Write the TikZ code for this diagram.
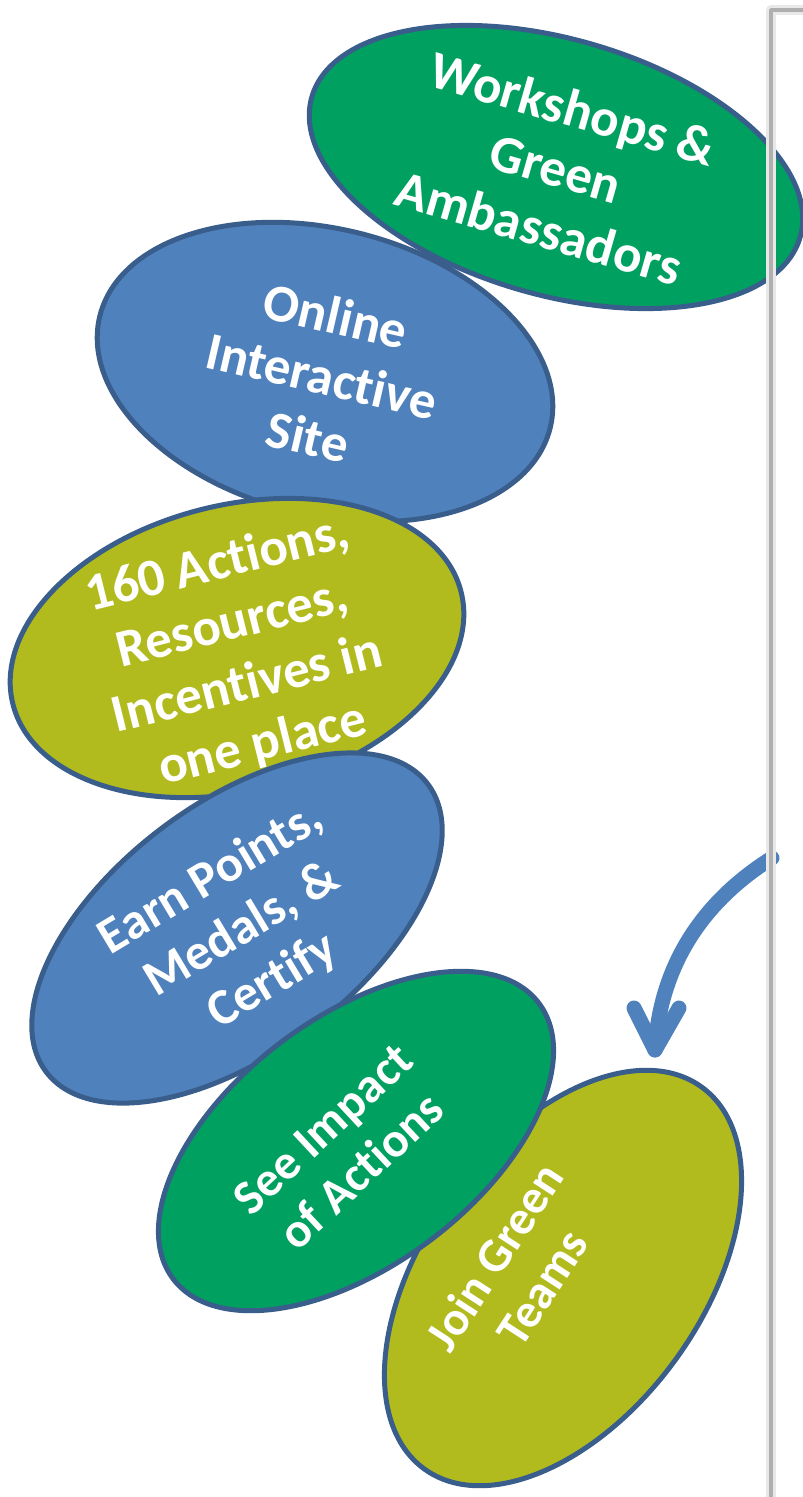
\documentclass[tikz,border=0pt]{standalone}
\usepackage{fontspec}
\setmainfont[Ligatures=NoCommon]{Carlito}
\usepackage{tikz}
\usetikzlibrary{arrows.meta,shapes.geometric}
\definecolor{bubblegreen}{RGB}{0,161,96}
\definecolor{bubbleblue}{RGB}{79,129,189}
\definecolor{bubbleolive}{RGB}{178,187,30}
\definecolor{rimblue}{RGB}{58,94,140}
\definecolor{framegray}{RGB}{175,175,175}
\tikzset{
  bubble/.style={ellipse,draw=rimblue,line width=5pt,inner sep=0pt},
  caption/.style={text=white,align=center,inner sep=0pt,
    font=\fontsize{53}{62}\selectfont\bfseries},
  smallcaption/.style={caption,font=\fontsize{49}{57}\selectfont\bfseries},
  curvearrow/.style={bubbleblue,line width=15pt,line cap=round,line join=round}
}
\begin{document}
\begin{tikzpicture}[line cap=round,line join=round,x=1pt,y=-1pt]
  \useasboundingbox (0,0) rectangle (803,1497);
  % bubbles, back to front
  \node[bubble,fill=bubbleblue,minimum width=464pt,minimum height=286pt,rotate=-14] (online) at (325,372) {};
  \node[caption,rotate=-13] (onlinetext) at (322,376) {Online\\ Interactive\\ Site};
  \node[bubble,fill=bubblegreen,minimum width=508pt,minimum height=256pt,rotate=-16] (workshops) at (556,167) {};
  \node[caption,rotate=-16] (workshopstext) at (556,168) {Workshops \&\\ Green\\ Ambassadors};
  \node[bubble,fill=bubbleolive,minimum width=462pt,minimum height=286pt,rotate=14] (actions) at (237,648) {};
  \node[caption,rotate=14] (actionstext) at (240,655) {160 Actions,\\ Resources,\\ Incentives in\\ one place};
  \node[bubble,fill=bubbleblue,minimum width=478pt,minimum height=250pt,rotate=37] (earn) at (237,928) {};
  \node[caption,font=\fontsize{51}{60}\selectfont\bfseries,rotate=31] (earntext) at (242,930) {Earn Points,\\ Medals, \&\\ Certify};
  \node[bubble,fill=bubbleolive,minimum width=472pt,minimum height=278pt,rotate=54] (join) at (563,1278) {};
  \node[smallcaption,font=\fontsize{48}{57}\selectfont\bfseries,rotate=57] (jointext) at (518,1272) {Join Green\\ Teams};
  \node[bubble,fill=bubblegreen,minimum width=458pt,minimum height=248pt,rotate=37] (impact) at (356,1141) {};
  \node[smallcaption,rotate=43] (impacttext) at (342,1150) {See Impact\\ of Actions};
  % curved arrow
  \coordinate (arrowstart) at (772,858);
  \coordinate (arrowend) at (655,1050);
  \coordinate (barbleft) at (634,1008);
  \coordinate (barbright) at (679,1008);
  \draw[curvearrow] (arrowstart) .. controls (702,902) and (660,966) .. (arrowend);
  \draw[curvearrow] (barbleft) -- (arrowend) -- (barbright);
  % frame edge
  \draw[gray!18,line width=10pt,line cap=butt] (803,10) -- (771,10) -- (771,1497);
  \draw[framegray,line width=3.5pt,line cap=butt] (803,10) -- (771,10) -- (771,1497);
\end{tikzpicture}
\end{document}
